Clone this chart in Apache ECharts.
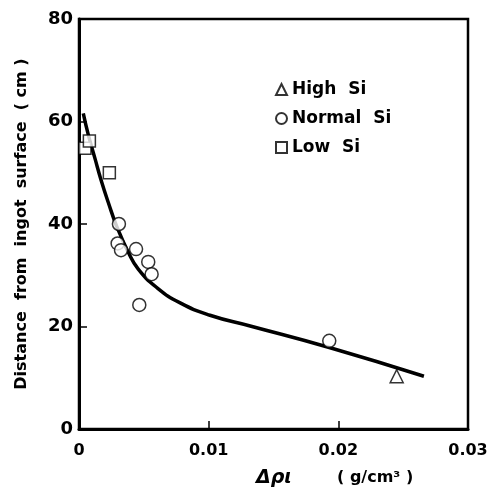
<!DOCTYPE html>
<html><head><meta charset="utf-8">
<script src="https://cdn.jsdelivr.net/npm/echarts@6/dist/echarts.min.js"></script>
<style>html,body{margin:0;padding:0;background:#fff}#c{width:496px;height:495px}</style>
</head><body><div id="c"></div>
<script>
var xTicks = [0, 0.01, 0.02, 0.03];
var yTicks = [0, 20, 40, 60, 80];
var highSi = [[0.0245, 10.3]];
var normalSi = [[0.00308, 40.0], [0.00298, 36.2], [0.00324, 34.9], [0.0044, 35.1], [0.00534, 32.6], [0.0056, 30.2], [0.00465, 24.2], [0.0193, 17.2]];
var lowSi = [[0.00046, 54.8], [0.0008, 56.2], [0.00234, 50.0]];
var fitCurve = [[0.00033, 61.6], [0.00072, 57.4], [0.00123, 52.8], [0.0017, 48.6], [0.00226, 44.2], [0.0029, 39.6], [0.0038, 34.5], [0.00457, 31.2], [0.006, 27.6], [0.0078, 24.6], [0.0101, 22.2], [0.0132, 20.1], [0.0193, 15.9], [0.0266, 10.3]];

var F = '"DejaVu Sans", sans-serif';
var chart = echarts.init(document.getElementById('c'));
var mk = {color: '#fff', borderColor: '#000', borderWidth: 1.5};
chart.setOption({
  animation: false,
  grid: {left: 79, right: 28, top: 19, bottom: 66, show: true, borderColor: '#000', borderWidth: 2.5, backgroundColor: 'transparent'},
  xAxis: {
    type: 'value', min: 0, max: 0.03, interval: 0.01,
    axisLine: {lineStyle: {color: '#000', width: 3}},
    axisTick: {inside: true, length: 8, lineStyle: {color: '#000', width: 1.5}},
    splitLine: {show: false},
    axisLabel: {color: '#000', fontFamily: F, fontSize: 16, fontWeight: 'bold', margin: 14,
      formatter: function (v) { var i = xTicks.indexOf(Math.round(v * 100) / 100); return i >= 0 ? String(xTicks[i]) : ''; }}
  },
  yAxis: {
    type: 'value', min: 0, max: 80, interval: 20,
    axisLine: {lineStyle: {color: '#000', width: 3}},
    axisTick: {inside: true, length: 8, lineStyle: {color: '#000', width: 1.5}},
    splitLine: {show: false},
    axisLabel: {color: '#000', fontFamily: F, fontSize: 18, fontWeight: 'bold', margin: 6},
    name: 'Distance  from  ingot  surface  ( cm )', nameLocation: 'middle', nameGap: 49,
    nameTextStyle: {color: '#000', fontFamily: F, fontSize: 16, fontWeight: 'bold'}
  },
  legend: {
    orient: 'vertical', left: 270, top: 76, itemWidth: 11, itemHeight: 11, itemGap: 12,
    data: ['High  Si', 'Normal  Si', 'Low  Si'],
    textStyle: {color: '#000', fontFamily: F, fontSize: 17, fontWeight: 'bold'}
  },
  graphic: [
    {type: 'text', left: 256, top: 469, style: {text: 'Δρι', font: 'italic bold 19px ' + F, fill: '#000'}},
    {type: 'text', left: 337, top: 470, style: {text: '( g/cm³ )', font: 'bold 16px ' + F, fill: '#000'}}
  ],
  series: [
    {name: 'fit', type: 'line', data: fitCurve, smooth: 0.5, showSymbol: false, lineStyle: {color: '#000', width: 3.5}, z: 1},
    {name: 'High  Si', type: 'scatter', data: highSi, symbol: 'triangle', symbolSize: 13, itemStyle: mk, z: 3},
    {name: 'Normal  Si', type: 'scatter', data: normalSi, symbol: 'circle', symbolSize: 13, itemStyle: mk, z: 3},
    {name: 'Low  Si', type: 'scatter', data: lowSi, symbol: 'rect', symbolSize: 12, itemStyle: mk, z: 3}
  ]
});
</script></body></html>
